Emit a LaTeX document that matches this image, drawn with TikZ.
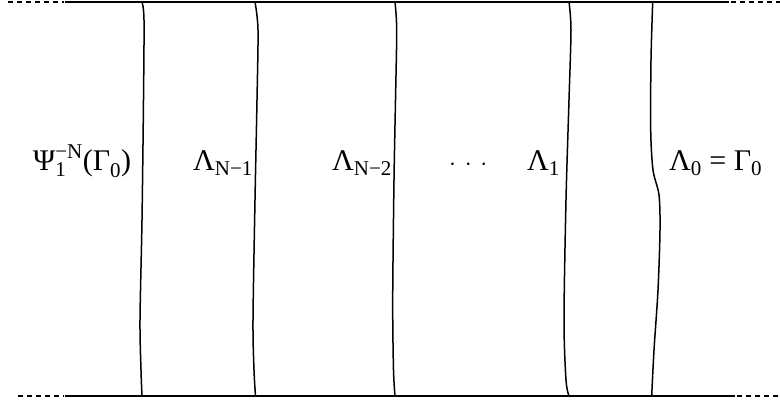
\documentclass[tikz,border=0pt]{standalone}
\usepackage{amsmath}
\usepackage{fontspec}
\setmainfont{Liberation Serif}
\tikzset{
  boundary/.style={line width=1.6pt},
  boundext/.style={boundary, dash pattern=on 5pt off 4pt},
  layer/.style={line width=1.5pt},
  region/.style={anchor=base west, inner sep=0pt, font=\fontsize{30}{32}\selectfont},
}

\begin{document}
\begin{tikzpicture}[x=1pt, y=-1pt]
\useasboundingbox (0,0) rectangle (780,402);
% top and bottom boundaries
\draw[boundext] (8,2) -- (64,2);
\draw[boundary] (65,2) -- (729,2);
\draw[boundext] (731,2) -- (780,2);
\draw[boundext] (18,396) -- (64,396);
\draw[boundary] (65,396) -- (735,396);
\draw[boundext] (737,396) -- (780,396);
% layers
\draw[layer] plot[smooth] coordinates {(142,2) (144,20) (143.5,100) (142,220) (140,320) (141,370) (142,396)};
\draw[layer] plot[smooth] coordinates {(255,2) (258,30) (257,100) (255,200) (253,320) (254,370) (255.5,396)};
\draw[layer] plot[smooth] coordinates {(395,2) (396.7,30) (395.5,100) (394,180) (392.7,300) (393.5,370) (395,396)};
\draw[layer] plot[smooth] coordinates {(569,2) (571,30) (569,100) (566,200) (564,320) (566,380) (569,396)};
\draw[layer] plot[smooth] coordinates {(652.7,2) (651,60) (650.7,130) (653,170) (659,195) (660,230) (658,290) (654,350) (651.7,396)};
% labels
\node[region] (psi) at (33,170) {$\text{Ψ}_{\text{1}}^{\text{−N}}\text{(Γ}_{\text{0}}\text{)}$};
\node[region] (lamNa) at (193,170) {$\text{Λ}_{\text{N−1}}$};
\node[region] (lamNb) at (332,170) {$\text{Λ}_{\text{N−2}}$};
\node[region] (dots) at (449,170) {$\cdot$\hspace{8.7pt}$\cdot$\hspace{8.7pt}$\cdot$};
\node[region] (lamA) at (527,170) {$\text{Λ}_{\text{1}}$};
\node[region] (lamO) at (669,170) {$\text{Λ}_{\text{0}}\text{ = Γ}_{\text{0}}$};
\end{tikzpicture}
\end{document}
